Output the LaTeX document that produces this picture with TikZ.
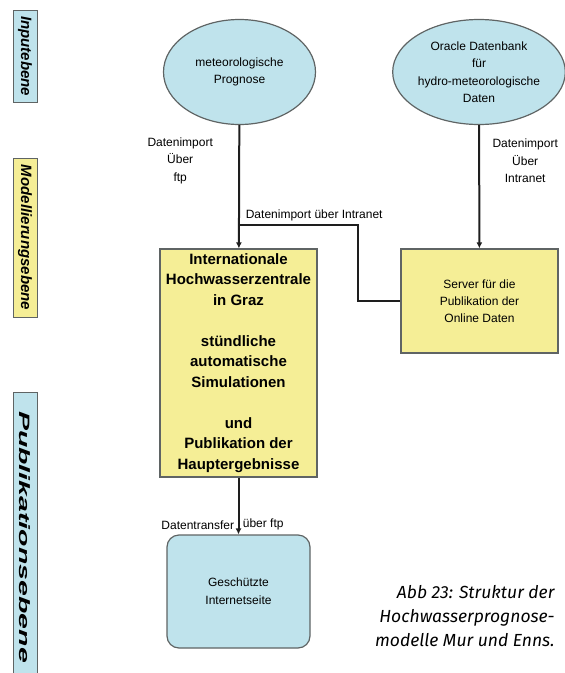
\documentclass[tikz,border=0pt]{standalone}
\usepackage{fontspec}
\setmainfont{Liberation Sans}
\newfontfamily\captionfont{Fira Sans}
\usepackage{tikz}
\usetikzlibrary{shapes.geometric, arrows, arrows.meta, positioning, shapes}
\definecolor{hblau}{RGB}{191,227,236}
\definecolor{hgelb}{RGB}{245,238,150}
\definecolor{rand}{RGB}{95,100,100}
\definecolor{linie}{RGB}{30,30,30}
\tikzstyle{wolke} = [ellipse, draw=rand, line width=1.2pt, fill=hblau, minimum width=152pt, minimum height=105pt, align=center, font=\fontsize{12}{17.5}\selectfont, inner sep=0pt]
\tikzstyle{zentrale} = [rectangle, draw=rand, line width=1.2pt, fill=hgelb, minimum width=157pt, minimum height=228pt, align=center, font=\fontsize{15}{20.5}\selectfont\bfseries]
\tikzstyle{server} = [rectangle, draw=rand, line width=1.2pt, fill=hgelb, minimum width=157pt, minimum height=104pt, align=center, font=\fontsize{12}{17}\selectfont]
\tikzstyle{webseite} = [rectangle, rounded corners=12pt, draw=rand, line width=1.2pt, fill=hblau, minimum width=143pt, minimum height=113pt, align=center, font=\fontsize{12}{18}\selectfont]
\tikzstyle{ebene} = [rectangle, draw=rand, line width=1pt, rotate=-90, minimum height=24pt, inner sep=0pt, font=\fontsize{15}{15}\selectfont\bfseries\itshape]
\tikzstyle{beschrift} = [align=center, font=\fontsize{12}{17.5}\selectfont]
\tikzstyle{line} = [draw=linie, line width=2pt, -{Latex[length=6pt,width=6pt]}]

\begin{document}
\begin{tikzpicture}[x=1pt, y=-1pt]
	\useasboundingbox (0,0) rectangle (565,673);

	% Ebenen links
	\node (input)  [ebene, fill=hblau, minimum width=92pt]  at (25,56)    {Inputebene};
	\node (modell) [ebene, fill=hgelb, minimum width=159pt] at (25,237.5) {Modellierungsebene};
	\node (publ)   [ebene, fill=hblau, minimum width=290pt] at (25,537)   {\scalebox{1.9}[1]{Publikationsebene}};

	% Knoten
	\node (prog)     [wolke]    at (239.5,72)  {meteorologische\\Prognose};
	\node (oracle)   [wolke]    at (479,72)    {Oracle Datenbank\\für\\hydro-meteorologische\\Daten};
	\node (zentrale) [zentrale] at (238.5,363) {Internationale\\Hochwasserzentrale\\in Graz\\[20.5pt]stündliche\\automatische\\Simulationen\\[20.5pt]und\\Publikation der\\Hauptergebnisse};
	\node (server)   [server]   at (479.5,301) {Server für die\\Publikation der\\Online Daten};
	\node (internet) [webseite] at (238.5,591.5) {Geschützte\\Internetseite};

	\coordinate (abzw) at (239.5,225);
	\coordinate (knick) at (358,225);

	% Verbindungen
	\path [line] (prog) -- node [beschrift, left=22pt, pos=0.29] {Datenimport\\Über\\ftp} (zentrale);
	\path [line] (oracle) -- node [beschrift, right=9pt, pos=0.29] {Datenimport\\Über\\Intranet} (server);
	\draw [draw=linie, line width=2pt] (abzw) -- node [beschrift, above right, pos=0, xshift=2pt] {Datenimport über Intranet} (knick) |- (server.west);
	\path [line] (zentrale) -- node [beschrift, left, pos=0.83] {Datentransfer} node [beschrift, right, pos=0.83] {über ftp} (internet);

	% Bildunterschrift
	\node (caption) [anchor=north east, align=right, font=\captionfont\itshape\fontsize{17.5}{24}\selectfont] at (558,582) {Abb 23: Struktur der\\Hochwasserprognose-\\modelle Mur und Enns.};
\end{tikzpicture}
\end{document}
